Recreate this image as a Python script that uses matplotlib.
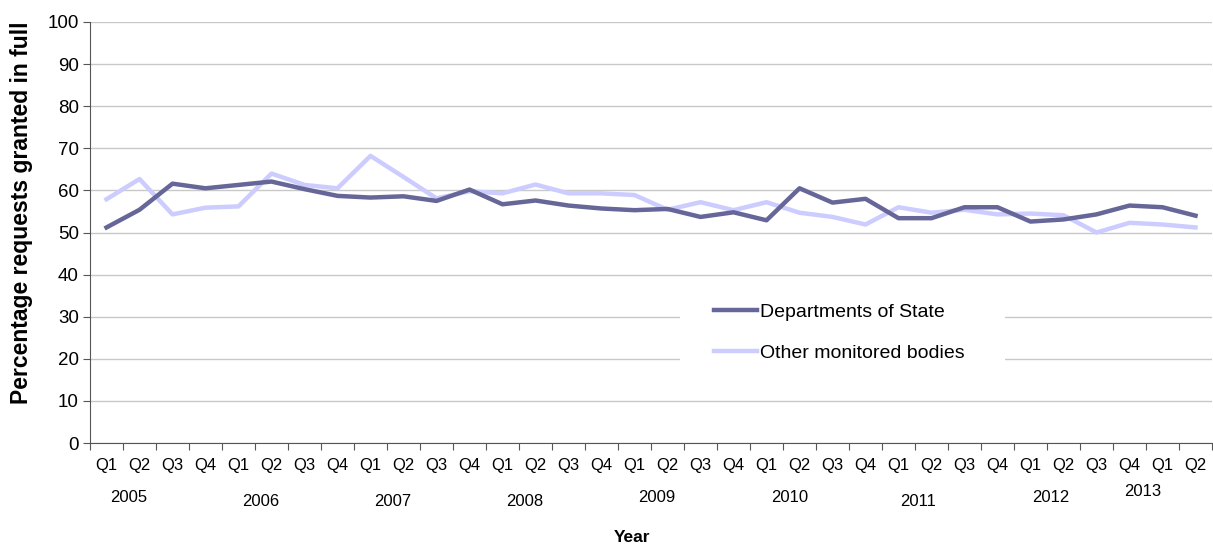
import numpy as np
import matplotlib.pyplot as plt
from matplotlib.patches import Rectangle

plt.rcParams['font.family'] = ['Liberation Sans', 'DejaVu Sans']

# quarterly series, 2005 Q1 .. 2013 Q2
quarters = ["Q1", "Q2", "Q3", "Q4"] * 8 + ["Q1", "Q2"]
years = ["2005", "2006", "2007", "2008", "2009", "2010", "2011", "2012", "2013"]
depts = [51.2, 55.4, 61.6, 60.5, 61.3, 62.1, 60.3, 58.7, 58.3, 58.6, 57.5,
         60.2, 56.7, 57.6, 56.4, 55.7, 55.3, 55.6, 53.7, 54.8, 52.9, 60.5,
         57.1, 58.0, 53.4, 53.4, 56.0, 56.0, 52.6, 53.1, 54.3, 56.4, 56.0, 54.0]
others = [57.9, 62.7, 54.3, 55.9, 56.2, 64.0, 61.3, 60.5, 68.2, 63.2, 58.1,
          59.8, 59.3, 61.4, 59.3, 59.3, 58.9, 55.4, 57.2, 55.3, 57.2, 54.7,
          53.7, 51.9, 56.0, 54.7, 55.4, 54.3, 54.5, 54.1, 50.0, 52.3, 51.9, 51.2]

x = np.arange(len(quarters))

fig = plt.figure(figsize=(12.13, 5.44), dpi=100)
ax = fig.add_axes([90/1213, 1-443/544, 1122/1213, 421/544])

ax.plot(x, depts, color="#666699", lw=3.2, label="Departments of State", zorder=3)
ax.plot(x, others, color="#CCCCFF", lw=3.2, label="Other monitored bodies", zorder=2)

ax.set_xlim(-0.5, len(quarters) - 0.5)
ax.set_ylim(0, 100)
ax.set_yticks(range(0, 101, 10))
ax.yaxis.grid(True, color="#c8c8c8", lw=1)
ax.set_axisbelow(True)
ax.tick_params(axis="y", labelsize=13.5, length=5, color="#555555", pad=3)

# ticks sit on category boundaries, labels centred in between
ax.set_xticks(np.arange(-0.5, len(quarters), 1))
ax.set_xticklabels([])
ax.set_xticks(x, minor=True)
ax.set_xticklabels(quarters, minor=True, fontsize=12)
ax.tick_params(axis="x", which="major", length=5, color="#555555")
ax.tick_params(axis="x", which="minor", length=0, pad=11)

for s in ["top", "right"]:
    ax.spines[s].set_visible(False)
ax.spines["left"].set_color("#555555")
ax.spines["bottom"].set_color("#555555")

# year labels under the quarter labels
year_pos = [0.66, 4.68, 8.67, 12.66, 16.68, 20.7, 24.6, 28.6, 31.4]
year_dy = [-55, -58, -58, -58, -55, -55, -58, -55, -49]
for yr, xp, dy in zip(years, year_pos, year_dy):
    ax.annotate(yr, xy=(xp, 0), xycoords="data",
                xytext=(0, dy), textcoords="offset pixels",
                ha="center", va="center", fontsize=12)

ax.set_ylabel("Percentage requests granted in full", fontsize=16.5,
              fontweight="bold")
ax.yaxis.set_label_coords(-0.051, 0.546)
fig.text(632/1213, 1-537/544, "Year", ha="center", va="center",
         fontsize=12.5, fontweight="bold")

# white panel behind the legend hides the gridlines there
ax.add_patch(Rectangle((0.5258, 0.1686), 0.2897, 0.1948, transform=ax.transAxes,
                       facecolor="white", edgecolor="none", zorder=1))
leg = ax.legend(loc="upper left", bbox_to_anchor=(0.556, 0.331),
                frameon=False, fontsize=14, handlelength=2.2,
                handletextpad=0.15, labelspacing=1.17,
                borderpad=0, borderaxespad=0)

fig.savefig("out.png", dpi=100)
